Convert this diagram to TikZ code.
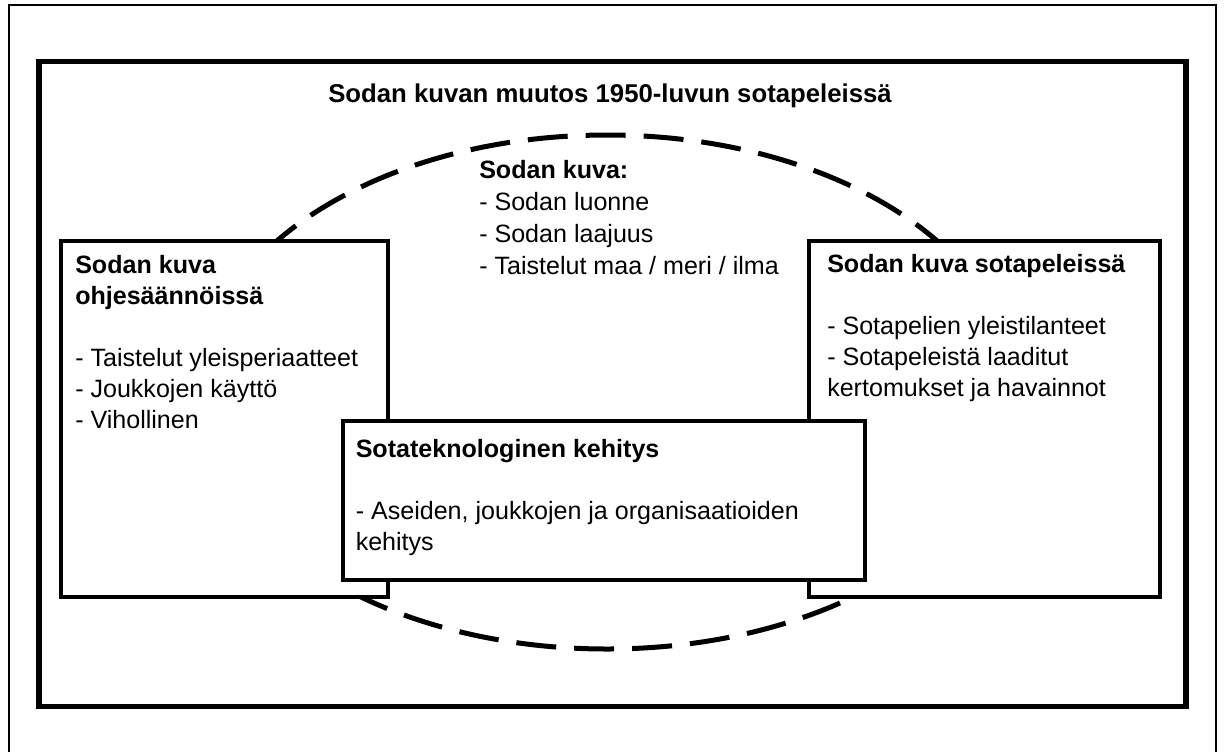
\documentclass[tikz,border=0pt]{standalone}
\usepackage{fontspec}
\setmainfont{Liberation Sans}
\usetikzlibrary{positioning}

\begin{document}
\begin{tikzpicture}[x=0.75pt, y=-0.75pt,
    box/.style={draw, fill=white, line width=3pt, outer sep=0pt, inner sep=0pt, anchor=north west},
    txt/.style={align=left, anchor=base west, inner sep=0pt, font=\fontsize{18.8}{23.25}\selectfont},
    ring/.style={line width=3.75pt, dash pattern=on 30pt off 13.5pt}]
  \useasboundingbox (0,0) rectangle (1224,751);
  \draw[line width=1.2pt] (9,770) -- (9,5) -- (1216,5) -- (1216,770);
  \draw[line width=4pt] (39,61.5) rectangle (1186,706.5);
  \draw[ring] (607,392) ellipse [x radius=408, y radius=257];
  \node[txt, anchor=base, font=\fontsize{19.3}{23.25}\selectfont\bfseries] (title) at (610,102) {Sodan kuvan muutos 1950-luvun sotapeleissä};
  % base of a multi-line node = its last line
  \node[txt, font=\fontsize{18.8}{24}\selectfont] (kuva) at (479,274) {\textbf{Sodan kuva:}\\- Sodan luonne\\- Sodan laajuus\\- Taistelut maa / meri / ilma};
  \node[box, minimum width=245.6pt, minimum height=267pt] (lbox) at (61,241) {};
  \node[box, minimum width=262.9pt, minimum height=267pt] (rbox) at (809,241) {};
  \node[box, minimum width=391.9pt, minimum height=119.6pt] (cbox) at (342.5,420.5) {};
  \node[txt] (ltxt) at ([shift={(14,187)}]lbox.north west) {\textbf{Sodan kuva}\\\textbf{ohjesäännöissä}\\[23.25pt]- Taistelut yleisperiaatteet\\- Joukkojen käyttö\\- Vihollinen};
  \node[txt] (rtxt) at ([shift={(18,155)}]rbox.north west) {\textbf{Sodan kuva sotapeleissä}\\[23.25pt]- Sotapelien yleistilanteet\\- Sotapeleistä laaditut\\kertomukset ja havainnot};
  \node[txt] (ctxt) at ([shift={(13,129.5)}]cbox.north west) {\textbf{Sotateknologinen kehitys}\\[23.25pt]- Aseiden, joukkojen ja organisaatioiden\\kehitys};
\end{tikzpicture}
\end{document}
